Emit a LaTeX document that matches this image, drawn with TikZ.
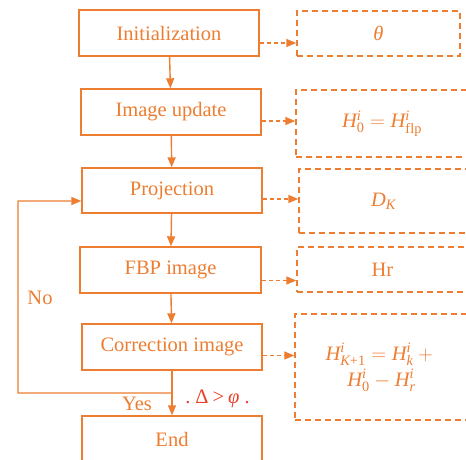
\RequirePackage{fix-cm}
\documentclass[tikz,border=0pt]{standalone}
\usepackage{amsmath}
\usepackage{fontspec}
\setmainfont{Liberation Serif}
\usetikzlibrary{arrows.meta,calc}
\definecolor{org}{HTML}{ED7D31}
\definecolor{redc}{HTML}{E8402A}
\newcommand{\mvar}[1]{\textit{#1}}
\newcommand{\mup}[1]{\textup{#1}}
\begin{document}
\begin{tikzpicture}[x=1pt,y=-1pt,
  every node/.style={font=\fontsize{20.5}{25}\selectfont, text=org},
  mainbox/.style={draw=org, line width=1.4pt, minimum width=180pt, minimum height=46pt, inner sep=0pt},
  sidebox/.style={draw=org, line width=1.4pt, dash pattern=on 6pt off 4pt, inner sep=0pt, align=center},
  flow/.style={draw=org, line width=1.4pt, -{Triangle[length=10pt,width=8pt]}},
  side/.style={flow, dash pattern=on 4pt off 3pt}]
\useasboundingbox (0,0) rectangle (466,460);
\clip (0,0) rectangle (466,460);
% main column
\node[mainbox] (init) at (169,33) {Initialization};
\node[mainbox] (upd) at (171,112) {Image update};
\node[mainbox, minimum height=45pt] (proj) at (172,190.5) {Projection};
\node[mainbox, minimum width=181pt] (fbp) at (170.5,270) {FBP image};
\node[mainbox] (corr) at (172,347) {Correction image};
\node[mainbox, text depth=0pt] (end) at (172,439) {End};
% side boxes
\node[sidebox, minimum width=163pt, minimum height=45pt] (th) at (378.5,33.5) {\mvar{θ}};
\node[sidebox, minimum width=172pt, minimum height=67pt] (h0) at (382,123.5) {$\mvar{H}^{\mvar{i}}_{\mup{0}} = \mvar{H}^{\mvar{i}}_{\mup{flp}}$};
\node[sidebox, minimum width=169pt, minimum height=64pt] (dk) at (383.5,201) {$\mvar{D}_{\mvar{K}}$};
\node[sidebox, minimum width=171pt, minimum height=45pt] (hr) at (382.5,269.5) {Hr};
\node[sidebox, minimum width=173pt, minimum height=106pt] (hk) at (381.5,367) {$\mvar{H}^{\mvar{i}}_{\mvar{K}\mup{+1}} = \mvar{H}^{\mvar{i}}_{\mvar{k}} +{}$\\[1pt]$\mvar{H}^{\mvar{i}}_{\mup{0}} - \mvar{H}^{\mvar{i}}_{\mvar{r}}$};
% main flow
\draw[flow] (init) -- (upd);
\draw[flow] (upd) -- (proj);
\draw[flow] (proj) -- (fbp);
\draw[flow] (fbp) -- (corr);
\draw[flow] (corr) -- (end);
% feedback loop
\coordinate (j) at ($(corr.south)!0.5!(end.north)$);
\coordinate (lp) at (18,393);
\draw[flow] (j) -- (lp) |- ([yshift=-10.5pt]proj.west);
% side arrows
\draw[side] ([yshift=-10pt]init.east) -- ([yshift=-10pt]init.east -| th.west);
\draw[side] ([yshift=-9pt]upd.east) -- ([yshift=-9pt]upd.east -| h0.west);
\draw[side] ([yshift=-8.5pt]proj.east) -- ([yshift=-8.5pt]proj.east -| dk.west);
\draw[side] ([yshift=-10.5pt]fbp.east) -- ([yshift=-10.5pt]fbp.east -| hr.west);
\draw[side] ([yshift=-8.5pt]corr.east) -- ([yshift=-8.5pt]corr.east -| hk.west);
% labels
\node (no) at (40,298) {No};
\node (yes) at (137,404) {Yes};
\node[text=redc] (cond) at (217.5,399) {.\hspace{5pt}Δ\hspace{4pt}>\hspace{4pt}\mvar{φ}\hspace{5pt}.};
\end{tikzpicture}
\end{document}
